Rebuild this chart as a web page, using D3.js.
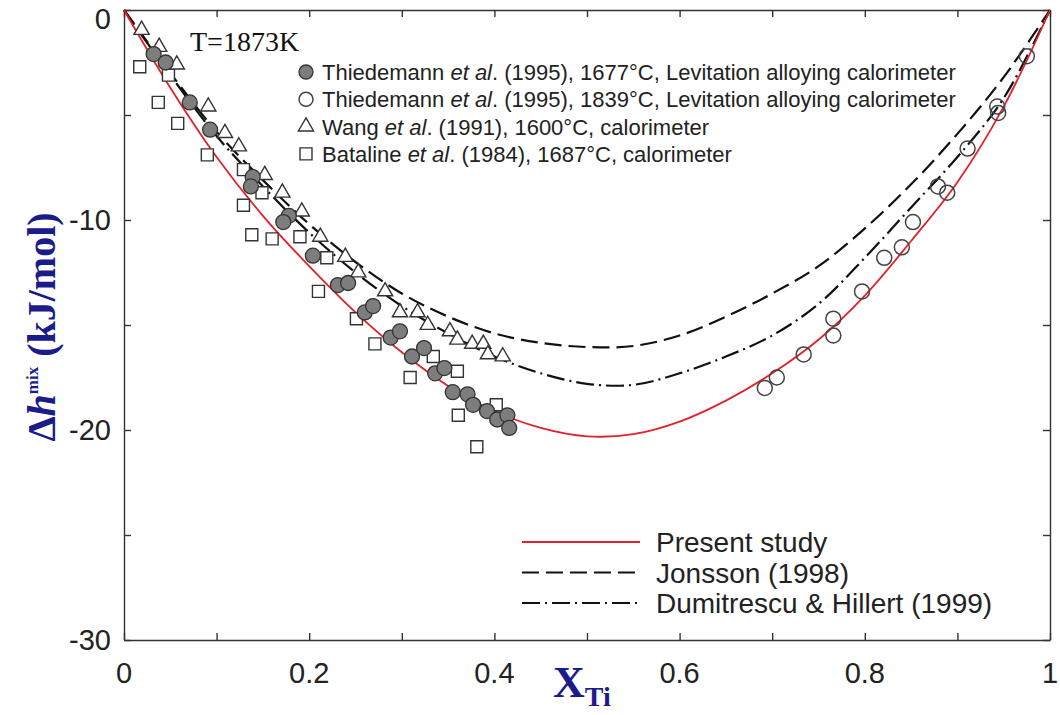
<!DOCTYPE html>
<html>
<head>
<meta charset="utf-8">
<script src="https://cdn.jsdelivr.net/npm/d3@7"></script>
<style>
body { margin: 0; background: #fff; }
svg { display: block; }
.axis path, .axis line { stroke: #333; stroke-width: 1.4; }
.tick-label { font-family: "Liberation Sans", Arial, sans-serif; font-size: 29px; fill: #222; }
.legend-text { font-family: "Liberation Sans", Arial, sans-serif; fill: #222; }
</style>
</head>
<body>
<svg id="chart"></svg>
<script>
const width = 1060, height = 715;

// ticks
const xTicks = [0, 0.1, 0.2, 0.3, 0.4, 0.5, 0.6, 0.7, 0.8, 0.9, 1];
const xLabels = [0, 0.2, 0.4, 0.6, 0.8, 1];
const yTicks = [0, -5, -10, -15, -20, -25, -30];
const yLabels = [0, -10, -20, -30];

// model curves
const presentStudy = [[0,0],[0.05,-3.7],[0.1,-7.0],[0.15,-9.8],[0.2,-12.2],[0.25,-14.4],[0.3,-16.3],[0.35,-17.9],
  [0.4,-19.1],[0.45,-19.9],[0.5,-20.3],[0.55,-20.2],[0.6,-19.6],[0.65,-18.6],[0.7,-17.3],[0.75,-15.7],
  [0.8,-13.6],[0.85,-11.0],[0.9,-8.2],[0.95,-4.6],[1,0]];
const jonsson = [[0,0],[0.05,-3.0],[0.1,-5.8],[0.15,-8.1],[0.2,-10.2],[0.25,-12.0],[0.3,-13.5],[0.35,-14.6],
  [0.4,-15.4],[0.45,-15.85],[0.5,-16.05],[0.55,-16.0],[0.6,-15.5],[0.65,-14.6],[0.7,-13.5],[0.75,-12.2],
  [0.8,-10.4],[0.85,-8.3],[0.9,-5.9],[0.95,-3.2],[1,0]];
const dumitrescu = [[0,0],[0.05,-3.1],[0.1,-6.0],[0.15,-8.4],[0.2,-10.6],[0.25,-12.5],[0.3,-14.1],[0.35,-15.4],
  [0.4,-16.5],[0.45,-17.3],[0.5,-17.8],[0.55,-17.85],[0.6,-17.3],[0.65,-16.5],[0.7,-15.5],[0.75,-14.0],
  [0.8,-11.8],[0.85,-9.4],[0.9,-7.0],[0.95,-4.2],[1,0]];

// experimental points
const thiedemann1677 = [[0.032,-2.1],[0.045,-2.5],[0.071,-4.4],[0.093,-5.7],[0.139,-7.95],[0.137,-8.4],
  [0.178,-9.8],[0.172,-10.1],[0.204,-11.7],[0.231,-13.1],[0.242,-13.0],[0.26,-14.4],[0.269,-14.1],
  [0.288,-15.6],[0.298,-15.3],[0.311,-16.5],[0.324,-16.1],[0.336,-17.3],[0.346,-17.05],[0.355,-18.2],
  [0.371,-18.3],[0.377,-18.8],[0.392,-19.1],[0.403,-19.5],[0.414,-19.3],[0.416,-19.9]];
const thiedemann1839 = [[0.692,-18.0],[0.705,-17.5],[0.734,-16.4],[0.766,-15.5],[0.766,-14.7],[0.797,-13.4],
  [0.821,-11.8],[0.84,-11.3],[0.852,-10.1],[0.879,-8.4],[0.889,-8.7],[0.911,-6.6],[0.943,-4.6],
  [0.944,-4.9],[0.975,-2.2]];
const wang = [[0.019,-0.95],[0.038,-1.76],[0.057,-2.6],[0.091,-4.6],[0.109,-5.86],[0.124,-6.5],
  [0.152,-7.86],[0.171,-8.7],[0.192,-9.6],[0.212,-10.8],[0.239,-11.76],[0.253,-12.5],[0.282,-13.4],
  [0.298,-14.4],[0.317,-14.4],[0.328,-15.0],[0.352,-15.3],[0.36,-15.7],[0.376,-15.9],[0.388,-15.9],
  [0.393,-16.4],[0.409,-16.5]];
const bataline = [[0.017,-2.7],[0.048,-3.1],[0.037,-4.4],[0.058,-5.4],[0.09,-6.9],[0.129,-7.6],
  [0.149,-8.7],[0.129,-9.3],[0.138,-10.7],[0.16,-10.9],[0.19,-10.8],[0.219,-11.8],[0.21,-13.4],
  [0.251,-14.7],[0.271,-15.9],[0.334,-16.5],[0.309,-17.5],[0.36,-17.2],[0.361,-19.3],[0.402,-18.8],
  [0.381,-20.8]];

const pointLegend = [
  { key: "filled", parts: ["Thiedemann ", "et al", ". (1995), 1677°C, Levitation alloying calorimeter"] },
  { key: "open", parts: ["Thiedemann ", "et al", ". (1995), 1839°C, Levitation alloying calorimeter"] },
  { key: "triangle", parts: ["Wang ", "et al", ". (1991), 1600°C, calorimeter"] },
  { key: "square", parts: ["Bataline ", "et al", ". (1984), 1687°C, calorimeter"] }
];
const lineLegend = ["Present study", "Jonsson (1998)", "Dumitrescu & Hillert (1999)"];

const svg = d3.select("#chart").attr("width", width).attr("height", height);

const x = d3.scaleLinear().domain([0, 1]).range([124, 1050]);
const y = d3.scaleLinear().domain([-30, 0]).range([640, 10]);

// axes, ticks pointing inwards on all four sides
const tickLen = 7;
svg.append("g").attr("class", "axis").attr("transform", `translate(0,${y(-30)})`)
  .call(d3.axisBottom(x).tickValues(xTicks).tickSizeInner(-tickLen).tickSizeOuter(0).tickFormat(""));
svg.append("g").attr("class", "axis").attr("transform", `translate(0,${y(0)})`)
  .call(d3.axisTop(x).tickValues(xTicks).tickSizeInner(-tickLen).tickSizeOuter(0).tickFormat(""));
svg.append("g").attr("class", "axis").attr("transform", `translate(${x(0)},0)`)
  .call(d3.axisLeft(y).tickValues(yTicks).tickSizeInner(-tickLen).tickSizeOuter(0).tickFormat(""));
svg.append("g").attr("class", "axis").attr("transform", `translate(${x(1)},0)`)
  .call(d3.axisRight(y).tickValues(yTicks).tickSizeInner(-tickLen).tickSizeOuter(0).tickFormat(""));

svg.selectAll(".xlab").data(xLabels).join("text")
  .attr("class", "tick-label")
  .attr("x", d => x(d)).attr("y", 683)
  .attr("text-anchor", "middle")
  .text(d => d);
// the top label sits a little lower so it stays inside the page
svg.selectAll(".ylab").data(yLabels).join("text")
  .attr("class", "tick-label")
  .attr("x", 111).attr("y", d => Math.max(y(d) + 10, 29))
  .attr("text-anchor", "end")
  .text(d => d);

// curves
const line = d3.line().x(d => x(d[0])).y(d => y(d[1])).curve(d3.curveCatmullRom);
svg.append("path").datum(jonsson).attr("d", line)
  .attr("fill", "none").attr("stroke", "#111").attr("stroke-width", 2.2).attr("stroke-dasharray", "17,7");
svg.append("path").datum(dumitrescu).attr("d", line)
  .attr("fill", "none").attr("stroke", "#111").attr("stroke-width", 2.2).attr("stroke-dasharray", "18,5,2,5");
svg.append("path").datum(presentStudy).attr("d", line)
  .attr("fill", "none").attr("stroke", "#e3202b").attr("stroke-width", 1.8);

// markers
const triangle = d3.symbol().type(d3.symbolTriangle).size(100);
const square = d3.symbol().type(d3.symbolSquare).size(144);

svg.append("g").selectAll("path").data(bataline).join("path")
  .attr("d", square).attr("transform", d => `translate(${x(d[0])},${y(d[1])})`)
  .attr("fill", "#fff").attr("stroke", "#333").attr("stroke-width", 1.4);
svg.append("g").selectAll("path").data(wang).join("path")
  .attr("d", triangle).attr("transform", d => `translate(${x(d[0])},${y(d[1])})`)
  .attr("fill", "#fff").attr("stroke", "#333").attr("stroke-width", 1.4);
svg.append("g").selectAll("circle").data(thiedemann1839).join("circle")
  .attr("cx", d => x(d[0])).attr("cy", d => y(d[1])).attr("r", 7.5)
  .attr("fill", "none").attr("stroke", "#444").attr("stroke-width", 1.5);
svg.append("g").selectAll("circle").data(thiedemann1677).join("circle")
  .attr("cx", d => x(d[0])).attr("cy", d => y(d[1])).attr("r", 7.5)
  .attr("fill", "#7d7d7d").attr("stroke", "#333").attr("stroke-width", 1.3);

// top legend (symbols)
const lg = svg.append("g");
pointLegend.forEach((item, i) => {
  const cy = 72 + i * 27.3, cx = 306;
  if (item.key === "filled") {
    lg.append("circle").attr("cx", cx).attr("cy", cy).attr("r", 7).attr("fill", "#7d7d7d").attr("stroke", "#333").attr("stroke-width", 1.3);
  } else if (item.key === "open") {
    lg.append("circle").attr("cx", cx).attr("cy", cy).attr("r", 7).attr("fill", "none").attr("stroke", "#444").attr("stroke-width", 1.5);
  } else if (item.key === "triangle") {
    lg.append("path").attr("d", triangle).attr("transform", `translate(${cx},${cy})`).attr("fill", "#fff").attr("stroke", "#333").attr("stroke-width", 1.4);
  } else {
    lg.append("path").attr("d", square).attr("transform", `translate(${cx},${cy})`).attr("fill", "#fff").attr("stroke", "#333").attr("stroke-width", 1.4);
  }
  const t = lg.append("text").attr("class", "legend-text").attr("x", 322).attr("y", cy + 8).style("font-size", "22px");
  t.append("tspan").text(item.parts[0]);
  t.append("tspan").style("font-style", "italic").text(item.parts[1]);
  t.append("tspan").text(item.parts[2]);
});

// bottom legend (lines)
const lineStyles = [
  { stroke: "#e3202b", dash: null, w: 1.8 },
  { stroke: "#111", dash: "17,7", w: 2.2 },
  { stroke: "#111", dash: "18,5,2,5", w: 2.2 }
];
lineLegend.forEach((name, i) => {
  const cy = 542 + i * 30.5;
  svg.append("line").attr("x1", 522).attr("x2", 640).attr("y1", cy).attr("y2", cy)
    .attr("stroke", lineStyles[i].stroke).attr("stroke-width", lineStyles[i].w)
    .attr("stroke-dasharray", lineStyles[i].dash);
  svg.append("text").attr("class", "legend-text").attr("x", 656).attr("y", cy + 10)
    .style("font-size", "28px").text(name);
});

// temperature note
svg.append("text").attr("x", 190).attr("y", 51)
  .style("font-family", "'Liberation Serif', 'Times New Roman', serif").style("font-size", "28px").attr("fill", "#111")
  .text("T=1873K");

// axis titles
const navy = "#1b1b8a";
const yt = svg.append("text")
  .attr("transform", "translate(55,327) rotate(-90)")
  .attr("text-anchor", "middle")
  .style("font-family", "'Liberation Serif', 'Times New Roman', serif")
  .style("font-weight", "bold").attr("fill", navy).style("font-size", "40px");
yt.append("tspan").text("Δ");
yt.append("tspan").style("font-style", "italic").text("h");
yt.append("tspan").attr("dy", -17).style("font-size", "17px").text("mix");
yt.append("tspan").attr("dy", 17).text(" (kJ/mol)");

const xt = svg.append("text").attr("x", 553).attr("y", 697)
  .style("font-family", "'Liberation Serif', 'Times New Roman', serif")
  .style("font-weight", "bold").attr("fill", navy).style("font-size", "44px");
xt.append("tspan").text("X");
xt.append("tspan").attr("dy", 9).style("font-size", "28px").text("Ti");
</script>
</body>
</html>
